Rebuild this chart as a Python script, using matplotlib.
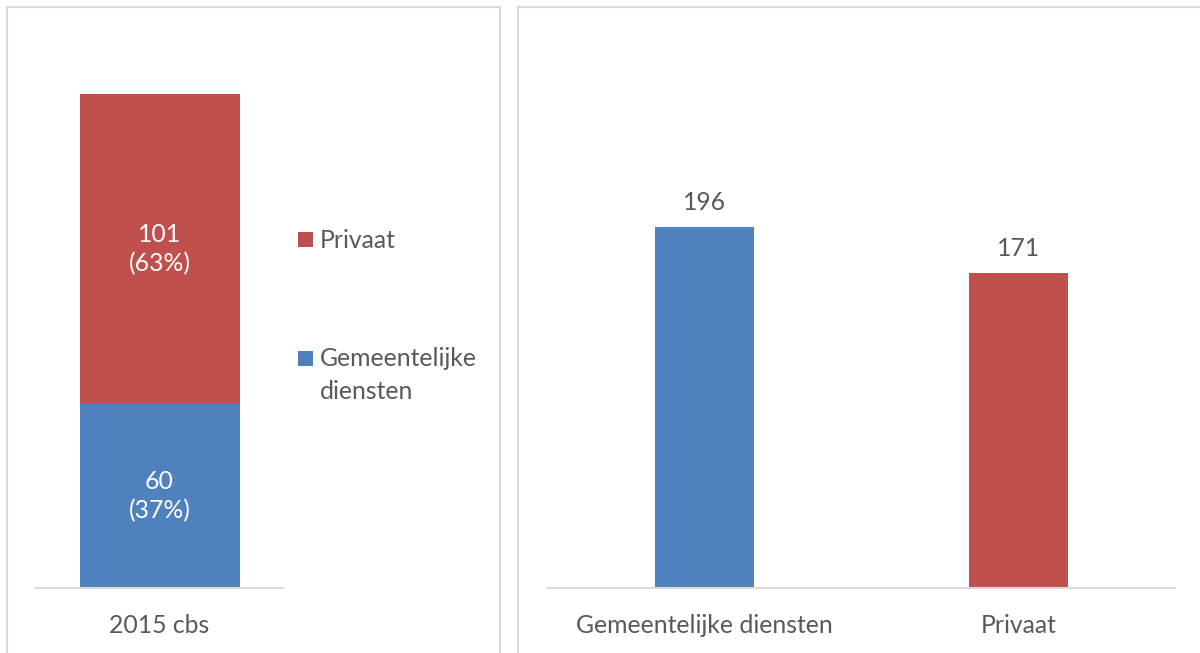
import matplotlib
matplotlib.use("Agg")
import matplotlib.pyplot as plt
from matplotlib.patches import Rectangle

plt.rcParams['font.family'] = ['Lato', 'DejaVu Sans']

# Data
left_category = ["2015 cbs"]
gemeentelijk_vals = [60]
privaat_vals = [101]
series_names = ["Privaat", "Gemeentelijke\ndiensten"]

right_categories = ["Gemeentelijke diensten", "Privaat"]
right_values = [196, 171]

BLUE = "#4f81bd"
RED = "#c0504d"
TXT = "#595959"
GRID = "#d9d9d9"
FS = 17.8

W, H = 1200, 653
fig = plt.figure(figsize=(W / 100, H / 100), dpi=100)

def px_axes(x0, y0_top, x1, y1_bottom):
    return fig.add_axes([x0 / W, 1 - y1_bottom / H, (x1 - x0) / W, (y1_bottom - y0_top) / H])

# Panel borders
for (x0, y0, x1, y1) in [(7, 7, 500, 660), (518, 7, 1210, 660)]:
    fig.patches.append(Rectangle((x0 / W, 1 - y1 / H), (x1 - x0) / W, (y1 - y0) / H,
                                 transform=fig.transFigure, fill=False,
                                 edgecolor=GRID, lw=1.5, zorder=0))

# Left stacked chart
axL = px_axes(36, 40, 283, 588)
bw = 160 / 247
b1 = axL.bar(range(len(left_category)), gemeentelijk_vals, width=bw, color=BLUE, zorder=2)
b2 = axL.bar(range(len(left_category)), privaat_vals, width=bw, bottom=gemeentelijk_vals, color=RED, zorder=2)
total = [g + p for g, p in zip(gemeentelijk_vals, privaat_vals)]
for i in range(len(left_category)):
    g, p, t = gemeentelijk_vals[i], privaat_vals[i], total[i]
    axL.text(i, g / 2, f"{g}\n({round(100 * g / t)}%)", ha='center', va='center',
             color='white', fontsize=FS, linespacing=1.3)
    axL.text(i, g + p / 2, f"{p}\n({round(100 * p / t)}%)", ha='center', va='center',
             color='white', fontsize=FS, linespacing=1.3)
axL.set_xlim(-0.5, 0.5)
axL.set_ylim(0, 548 / ((588 - 94) / 161))
axL.set_xticks(range(len(left_category)))
axL.set_xticklabels(left_category, fontsize=FS, color=TXT)
axL.tick_params(axis='x', length=0, pad=19)
axL.set_yticks([])
for s in ['top', 'right', 'left']:
    axL.spines[s].set_visible(False)
axL.spines['bottom'].set_color(GRID)
axL.spines['bottom'].set_linewidth(1.5)
axL.patch.set_visible(False)

# Legend (manual, square aligned with first line of label)
LINE_PX = 32
legend_items = [(series_names[0], RED, 248), (series_names[1], BLUE, 367)]
for name, col, base in legend_items:
    fig.patches.append(Rectangle((298 / W, 1 - (base - 1) / H), 15 / W, 15 / H,
                                 transform=fig.transFigure, facecolor=col, edgecolor='none'))
    last_base = base + LINE_PX * name.count("\n")
    fig.text(320 / W, 1 - last_base / H, name, ha='left', va='baseline', fontsize=FS,
             color=TXT, linespacing=1.52)

# Right chart
axR = px_axes(548, 40, 1175, 588)
colors = [BLUE, RED]
bars = axR.bar(range(len(right_categories)), right_values, width=99 / 313.5, color=colors, zorder=2)
for i, v in enumerate(right_values):
    axR.annotate(str(v), (i, v), xytext=(0, 12.2), textcoords='offset points',
                 ha='center', va='baseline', fontsize=FS, color=TXT)
axR.set_xlim(-0.5, 1.5)
axR.set_ylim(0, 548 / ((588 - 227) / 196))
axR.set_xticks(range(len(right_categories)))
axR.set_xticklabels(right_categories, fontsize=FS, color=TXT)
axR.tick_params(axis='x', length=0, pad=19)
axR.set_yticks([])
for s in ['top', 'right', 'left']:
    axR.spines[s].set_visible(False)
axR.spines['bottom'].set_color(GRID)
axR.spines['bottom'].set_linewidth(1.5)
axR.patch.set_visible(False)

fig.savefig("out.png", dpi=100)
